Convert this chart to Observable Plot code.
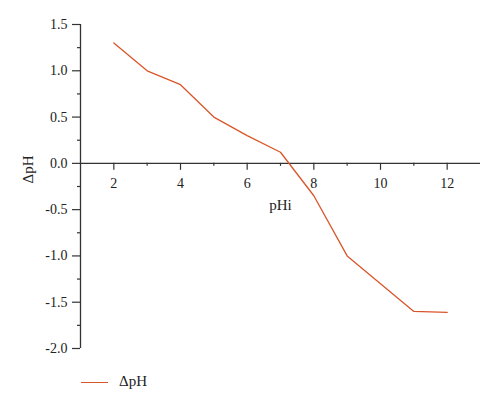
<!DOCTYPE html>
<html>
<head>
<meta charset="utf-8">
<script src="https://cdn.jsdelivr.net/npm/d3@7"></script>
<script src="https://cdn.jsdelivr.net/npm/@observablehq/plot@0.6"></script>
<style>
  html, body { margin: 0; padding: 0; background: #fff; }
  #wrap { width: 500px; font-family: "Liberation Serif", serif; }
  #legend { position: relative; height: 49px; }
  #legend .ln { position: absolute; left: 81px; top: 22px; width: 27px; height: 0; border-top: 1.3px solid #d9562b; }
  #legend .tx { position: absolute; left: 119px; top: 13px; font-size: 15px; color: #222; font-family: "Liberation Serif", serif; }
  svg text { font-family: "Liberation Serif", serif; }
</style>
</head>
<body>
<div id="wrap"></div>
<script>
const pHi = [2, 3, 4, 5, 6, 7, 8, 9, 10, 11, 12];
const dPH = [1.3, 1.0, 0.85, 0.5, 0.3, 0.12, -0.35, -1.0, -1.3, -1.6, -1.61];
const xMajor = [2, 4, 6, 8, 10, 12];
const xMinor = [3, 5, 7, 9, 11];
const yMajor = [-2.0, -1.5, -1.0, -0.5, 0.0, 0.5, 1.0, 1.5];
const yMinor = [-1.75, -1.25, -0.75, -0.25, 0.25, 0.75, 1.25];
const xDomain = [1, 13];
const yDomain = [-2.0, 1.5];
const seriesName = "ΔpH";
const xLabel = "pHi";
const yLabel = "ΔpH";

const data = pHi.map((x, i) => ({x, y: dPH[i]}));
const axisColor = "#333";
const lineColor = "#d9562b";
const serif = '"Liberation Serif", serif';

const chart = Plot.plot({
  width: 500,
  height: 360,
  marginLeft: 80,
  marginRight: 20,
  marginTop: 24,
  marginBottom: 12,
  style: {fontFamily: serif, fontSize: "14px", color: "#222", background: "#fff"},
  x: {domain: xDomain, axis: null},
  y: {domain: yDomain, axis: null},
  marks: [
    // y axis line
    Plot.ruleX([xDomain[0]], {stroke: axisColor, strokeWidth: 1.3}),
    Plot.axisY({ticks: yMajor, tickSize: 8, tickPadding: 5, tickFormat: d => d.toFixed(1), stroke: axisColor, strokeWidth: 1.2, label: null, fontSize: 14, fill: "#222"}),
    Plot.axisY({ticks: yMinor, tickSize: 3, tickFormat: () => "", stroke: axisColor, strokeWidth: 1.2, label: null}),
    // x axis along y = 0
    Plot.ruleY([0], {stroke: axisColor, strokeWidth: 1.3}),
    Plot.ruleX(xMajor, {x: d => d, y1: 0, y2: 0, insetBottom: -7, stroke: axisColor, strokeWidth: 1.2}),
    Plot.ruleX(xMinor, {x: d => d, y1: 0, y2: 0, insetBottom: -3, stroke: axisColor, strokeWidth: 1.2}),
    Plot.text(xMajor, {x: d => d, y: 0, dy: 20, text: d => String(d), fontSize: 14, fill: "#222"}),
    Plot.text([xLabel], {x: (xDomain[0] + xDomain[1]) / 2, y: 0, dy: 42, text: d => d, fontSize: 15, fill: "#222"}),
    Plot.text([yLabel], {frameAnchor: "left", dx: -52, dy: -3, rotate: -90, text: d => d, fontSize: 15, fill: "#222"}),
    // data line
    Plot.line(data, {x: "x", y: "y", stroke: lineColor, strokeWidth: 1.3})
  ]
});

const wrap = document.getElementById("wrap");
wrap.appendChild(chart);
const legend = document.createElement("div");
legend.id = "legend";
legend.innerHTML = `<div class="ln"></div><div class="tx"></div>`;
legend.querySelector(".tx").textContent = seriesName;
wrap.appendChild(legend);
</script>
</body>
</html>
